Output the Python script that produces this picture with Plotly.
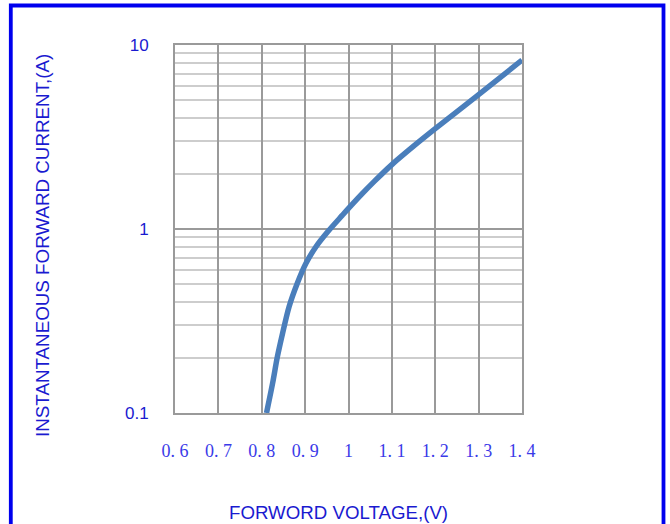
import plotly.graph_objects as go

# data
voltage = [0.811, 0.825, 0.836, 0.848, 0.863, 0.882, 0.902, 0.925, 0.952, 0.986, 1.0,
           1.03, 1.06, 1.1, 1.15, 1.2, 1.3, 1.4]
current = [0.1, 0.145, 0.202, 0.271, 0.378, 0.507, 0.651, 0.801, 0.966, 1.189, 1.294,
           1.542, 1.820, 2.239, 2.818, 3.508, 5.370, 8.279]
x_ticks = [0.6, 0.7, 0.8, 0.9, 1.0, 1.1, 1.2, 1.3, 1.4]
x_tick_text = ["0. 6", "0. 7", "0. 8", "0. 9", "1", "1. 1", "1. 2", "1. 3", "1. 4"]
y_ticks = [0.1, 1, 10]
y_tick_text = ["0.1", "1", "10"]
y_minor = [0.2, 0.3, 0.4, 0.5, 0.6, 0.7, 0.8, 0.9, 2, 3, 4, 5, 6, 7, 8, 9]

W, H = 670, 524
L, R, T, B = 175, 148, 45, 111
pw, ph = W - L - R, H - T - B

def px_x(p):
    return (p - L) / pw

def px_y(p):
    return 1 - (p - T) / ph

fig = go.Figure()
fig.add_trace(go.Scatter(x=voltage, y=current, mode="lines",
                         line=dict(color="#4a7ebb", width=5.5, shape="spline", smoothing=0.8),
                         showlegend=False, hoverinfo="skip"))

fig.update_layout(
    width=W, height=H,
    margin=dict(l=L, r=R, t=T, b=B, pad=0),
    paper_bgcolor="white", plot_bgcolor="white",
    xaxis=dict(range=[0.6, 1.4], tickvals=x_ticks, ticktext=x_tick_text,
               showgrid=True, gridcolor="#9a9a9a", gridwidth=2,
               showline=True, linecolor="#9a9a9a", linewidth=2, mirror=True,
               ticks="outside", ticklen=20, tickcolor="rgba(0,0,0,0)",
               tickfont=dict(family="Liberation Serif, DejaVu Serif, serif", size=18, color="#3a3ae8"),
               zeroline=False),
    yaxis=dict(type="log", range=[-1, 1], tickvals=y_ticks, ticktext=y_tick_text,
               showgrid=True, gridcolor="#9a9a9a", gridwidth=2,
               showline=True, linecolor="#9a9a9a", linewidth=2, mirror=True,
               ticks="outside", ticklen=21, tickcolor="rgba(0,0,0,0)",
               tickfont=dict(family="Liberation Sans, Arial, sans-serif", size=17, color="#1a1ad0"),
               minor=dict(tickvals=y_minor, showgrid=True, gridcolor="#cdcdcd", gridwidth=2,
                          ticks=""),
               zeroline=False),
    annotations=[
        dict(text="FORWORD VOLTAGE,(V)", xref="paper", yref="paper",
             x=px_x(338), y=px_y(512), xanchor="center", yanchor="middle", showarrow=False,
             font=dict(family="Liberation Sans, Arial, sans-serif", size=18.7, color="#1a1ad0")),
        dict(text="INSTANTANEOUS FORWARD CURRENT,(A)", xref="paper", yref="paper",
             x=px_x(42), y=px_y(246), xanchor="center", yanchor="middle", showarrow=False,
             textangle=-90,
             font=dict(family="Liberation Sans, Arial, sans-serif", size=18.8, color="#1a1ad0")),
    ],
    shapes=[
        dict(type="rect", xref="paper", yref="paper",
             x0=px_x(10.8), x1=px_x(663.5), y0=px_y(560), y1=px_y(5.5),
             line=dict(color="#0000ee", width=3.8), fillcolor="rgba(0,0,0,0)", layer="above"),
    ],
)

fig.write_html("out.html", config={"displayModeBar": False, "staticPlot": True},
               post_script="document.body.style.margin='0';document.body.style.overflow='hidden';")
